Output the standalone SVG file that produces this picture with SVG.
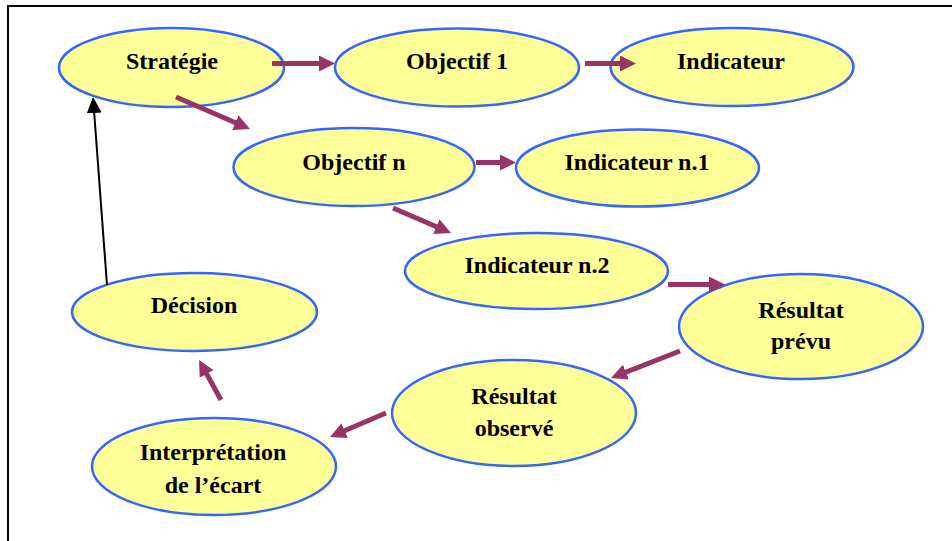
<svg xmlns="http://www.w3.org/2000/svg" width="952" height="541" viewBox="0 0 952 541">
  <style>
    .node ellipse { fill: #FFFF99; stroke: #3366FF; stroke-width: 2.5; }
    .node text { font-family: "Liberation Serif", "Times New Roman", serif; font-weight: bold; font-size: 24px; fill: #000; text-anchor: middle; }
    .flow { stroke: #993366; stroke-width: 5; fill: none; marker-end: url(#headFlow); }
    .back { stroke: #000; stroke-width: 2; fill: none; marker-end: url(#headBack); }
  </style>
  <defs>
    <marker id="headFlow" markerUnits="userSpaceOnUse" markerWidth="16" markerHeight="16" refX="4" refY="8" orient="auto">
      <path d="M0,0 L16,8 L0,16 z" fill="#993366"/>
    </marker>
    <marker id="headBack" markerUnits="userSpaceOnUse" markerWidth="16" markerHeight="15" refX="4" refY="7.5" orient="auto">
      <path d="M0,0 L16,7.5 L0,15 z" fill="#000"/>
    </marker>
  </defs>

  <rect x="0" y="0" width="952" height="541" fill="#fff"/>
  <!-- frame -->
  <rect x="8" y="6" width="960" height="560" fill="none" stroke="#000" stroke-width="2"/>

  <g id="n-strategie" class="node">
    <ellipse cx="171.5" cy="67.5" rx="112.5" ry="39.5"/>
    <text x="172" y="69">Stratégie</text>
  </g>
  <g id="n-objectif1" class="node">
    <ellipse cx="457" cy="67.5" rx="122" ry="39"/>
    <text x="457" y="69">Objectif 1</text>
  </g>
  <g id="n-indicateur" class="node">
    <ellipse cx="732" cy="67" rx="121.5" ry="39"/>
    <text x="731" y="69">Indicateur</text>
  </g>
  <g id="n-objectifn" class="node">
    <ellipse cx="354" cy="167" rx="120.5" ry="39"/>
    <text x="354" y="170">Objectif n</text>
  </g>
  <g id="n-indicateur1" class="node">
    <ellipse cx="637.5" cy="168" rx="121.5" ry="38.5"/>
    <text x="637" y="170">Indicateur n.1</text>
  </g>
  <g id="n-indicateur2" class="node">
    <ellipse cx="536.5" cy="271" rx="131.5" ry="38"/>
    <text x="537" y="273">Indicateur n.2</text>
  </g>
  <g id="n-prevu" class="node">
    <ellipse cx="801" cy="326.5" rx="122" ry="52.5"/>
    <text x="801" y="318">Résultat</text>
    <text x="801" y="349">prévu</text>
  </g>
  <g id="n-observe" class="node">
    <ellipse cx="514" cy="413" rx="122" ry="53"/>
    <text x="514" y="404">Résultat</text>
    <text x="514" y="436">observé</text>
  </g>
  <g id="n-decision" class="node">
    <ellipse cx="194.5" cy="312" rx="122.5" ry="39"/>
    <text x="194" y="313">Décision</text>
  </g>
  <g id="n-interpretation" class="node">
    <ellipse cx="214" cy="466.5" rx="122" ry="48.5"/>
    <text x="213" y="460">Interprétation</text>
    <text x="213" y="493">de l’écart</text>
  </g>

  <g id="connectors">
    <line class="flow" x1="272" y1="63.5" x2="323" y2="63.5"/>
    <line class="flow" x1="585" y1="63.5" x2="624" y2="63.5"/>
    <line class="flow" x1="176" y1="97" x2="239" y2="124.2"/>
    <line class="flow" x1="476" y1="162.5" x2="504" y2="162.5"/>
    <line class="flow" x1="393" y1="208" x2="440" y2="228.2"/>
    <line class="flow" x1="668" y1="284.5" x2="713" y2="284.5"/>
    <line class="flow" x1="680" y1="351" x2="622.2" y2="373.6"/>
    <line class="flow" x1="386" y1="413" x2="341" y2="432.3"/>
    <line class="flow" x1="221" y1="400" x2="204.8" y2="370.5"/>
    <line class="back" x1="107" y1="285" x2="93.9" y2="109"/>
  </g>
</svg>
